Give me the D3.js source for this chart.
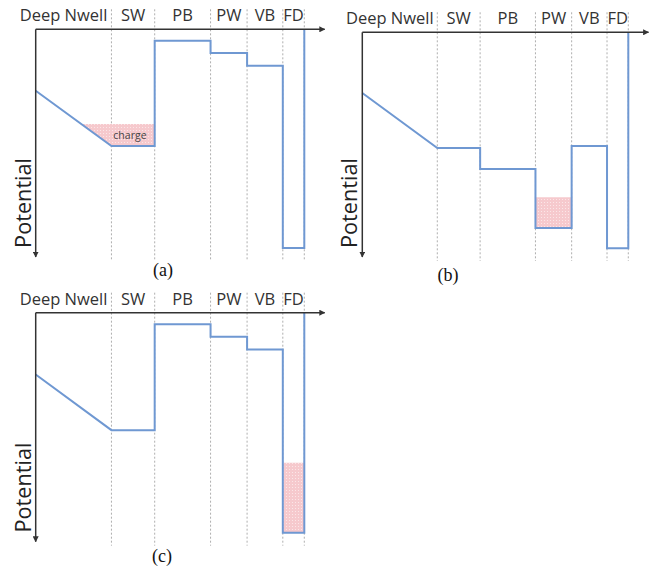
<!DOCTYPE html>
<html>
<head>
<meta charset="utf-8">
<script src="https://cdn.jsdelivr.net/npm/d3@7"></script>
<style>
  body { margin: 0; background: #fff; }
  svg { display: block; }
</style>
</head>
<body>
<svg id="chart" width="659" height="574"></svg>
<script>
// regions along depth, edges in depth units (0..100)
const regions = ["Deep Nwell", "SW", "PB", "PW", "VB", "FD"];
const regionEdges = [0, 28.2, 44.3, 65.1, 78.7, 92.0, 100];

// potential level per region (0 = axis, 100 = bottom), deep nwell given as start of the slope
const potentialA = [27, 51.3, 5.0, 10.4, 16.0, 96.0];
const potentialB = [27, 51.5, 60.8, 87.1, 50.6, 96.1];
const potentialC = [27, 51.3, 5.0, 10.5, 16.1, 96.1];

// stored charge: region index and top level of the charge
const chargeA = {region: 1, top: 41.6, label: "charge"};
const chargeB = {region: 3, top: 73.4, label: ""};
const chargeC = {region: 5, top: 65.5, label: ""};

const panelNames = ["(a)", "(b)", "(c)"];

const svg = d3.select("#chart");

const defs = svg.append("defs");
const pat = defs.append("pattern")
    .attr("id", "dots")
    .attr("width", 3).attr("height", 3)
    .attr("patternUnits", "userSpaceOnUse");
pat.append("rect").attr("width", 3).attr("height", 3).attr("fill", "#f6c9cd");
pat.append("rect").attr("x", 1).attr("y", 1).attr("width", 1).attr("height", 1).attr("fill", "#fbe6e8");

defs.append("marker")
    .attr("id", "arrow")
    .attr("viewBox", "0 0 10 10")
    .attr("refX", 9).attr("refY", 5)
    .attr("markerWidth", 6).attr("markerHeight", 6)
    .attr("markerUnits", "userSpaceOnUse")
    .attr("orient", "auto")
    .append("path")
    .attr("d", "M0,0 L10,5 L0,10 z")
    .attr("fill", "#333");

function drawPanel(ox, oy, w, h, levels, charge, name, nameX, nameY) {
    const x = d3.scaleLinear().domain([0, 100]).range([ox, ox + w]);
    const y = d3.scaleLinear().domain([0, 100]).range([oy, oy + h]);
    const g = svg.append("g");

    // dashed region dividers
    g.selectAll(".div")
        .data(regionEdges.slice(1))
        .join("line")
        .attr("x1", d => x(d)).attr("x2", d => x(d))
        .attr("y1", oy - 20).attr("y2", oy + h + 4)
        .attr("stroke", "#9a9a9a")
        .attr("stroke-width", 0.8)
        .attr("stroke-dasharray", "2,2");

    // region labels
    g.selectAll(".lab")
        .data(regions)
        .join("text")
        .attr("x", (d, i) => i === 0 ? (x(regionEdges[1]) + x(0)) / 2 - 10 : (x(regionEdges[i]) + x(regionEdges[i + 1])) / 2)
        .attr("y", oy - 8)
        .attr("text-anchor", "middle")
        .attr("font-family", "'Open Sans', sans-serif")
        .attr("font-size", "16.5px")
        .attr("fill", "#333")
        .text(d => d);

    // charge fill
    const r = charge.region;
    const x0 = regionEdges[r], x1 = regionEdges[r + 1];
    let chargePts;
    if (r === 1) {
        // follows the Deep Nwell slope on the left
        const slope = (levels[1] - levels[0]) / regionEdges[1];
        const xs = regionEdges[1] - (levels[1] - charge.top) / slope;
        chargePts = [[xs, charge.top], [x1, charge.top], [x1, levels[r]], [x0, levels[r]]];
    } else {
        chargePts = [[x0, charge.top], [x1, charge.top], [x1, levels[r]], [x0, levels[r]]];
    }
    g.append("path")
        .attr("d", d3.line().x(d => x(d[0])).y(d => y(d[1]))(chargePts) + "Z")
        .attr("fill", "url(#dots)");
    if (charge.label) {
        g.append("text")
            .attr("x", x((chargePts[0][0] + x1) / 2) + 12)
            .attr("y", y((charge.top + levels[r]) / 2) + 4)
            .attr("text-anchor", "middle")
            .attr("font-family", "'Open Sans', sans-serif")
            .attr("font-size", "10.5px")
            .attr("fill", "#444")
            .text(charge.label);
    }

    // potential profile
    const pts = [[0, levels[0]], [regionEdges[1], levels[1]]];
    for (let i = 1; i < regions.length; i++) {
        pts.push([regionEdges[i], levels[i]]);
        pts.push([regionEdges[i + 1], levels[i]]);
    }
    pts.push([100, 0]);
    g.append("path")
        .attr("d", d3.line().x(d => x(d[0])).y(d => y(d[1]))(pts))
        .attr("fill", "none")
        .attr("stroke", "#6f98d2")
        .attr("stroke-width", 2);

    // axes
    g.append("line")
        .attr("x1", x(0)).attr("y1", y(0))
        .attr("x2", x(107.6)).attr("y2", y(0))
        .attr("stroke", "#333").attr("stroke-width", 1.5)
        .attr("marker-end", "url(#arrow)");
    g.append("line")
        .attr("x1", x(0)).attr("y1", y(0))
        .attr("x2", x(0)).attr("y2", y(100))
        .attr("stroke", "#333").attr("stroke-width", 1.5)
        .attr("marker-end", "url(#arrow)");

    g.append("text")
        .attr("transform", `translate(${x(0) - 5},${y(96)}) rotate(-90)`)
        .attr("font-family", "'Open Sans', sans-serif")
        .attr("font-size", "22px")
        .attr("fill", "#222")
        .attr("textLength", 90)
        .attr("lengthAdjust", "spacingAndGlyphs")
        .text("Potential");

    g.append("text")
        .attr("x", nameX).attr("y", nameY)
        .attr("text-anchor", "middle")
        .attr("font-family", "'Liberation Serif', 'Times New Roman', serif")
        .attr("font-size", "18px")
        .attr("fill", "#111")
        .text(name);
}

drawPanel(35.7, 29.3, 268.6, 227.7, potentialA, chargeA, panelNames[0], 163, 276);
drawPanel(362.3, 32.3, 266, 224.7, potentialB, chargeB, panelNames[1], 448, 281);
drawPanel(35.7, 312.7, 268.6, 229, potentialC, chargeC, panelNames[2], 162, 562);
</script>
</body>
</html>
